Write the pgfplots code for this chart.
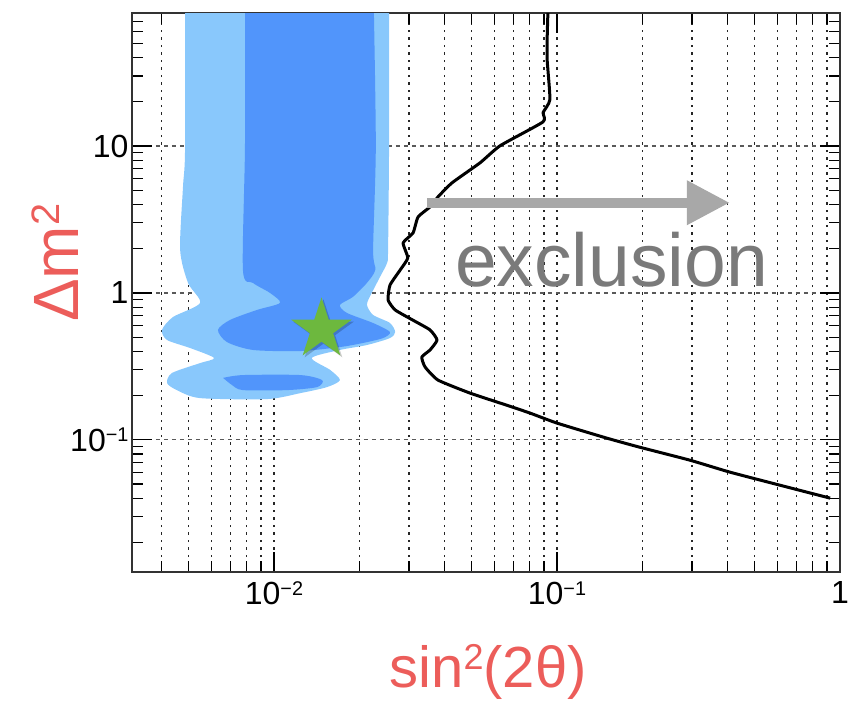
\documentclass[border=0pt]{standalone}
\usepackage{fontspec}
\setmainfont{Liberation Sans}
\usepackage{pgfplots}
\pgfplotsset{compat=1.18}
\usetikzlibrary{arrows.meta}
\definecolor{lightblue}{RGB}{137,200,252}
\definecolor{darkblue}{RGB}{81,149,251}
\definecolor{stargreen}{RGB}{109,184,62}
\definecolor{labelred}{RGB}{236,93,90}
\definecolor{arrowgray}{RGB}{168,168,168}
\definecolor{textgray}{RGB}{122,122,122}
\newcommand\sups[1]{\raisebox{0.3em}{\scalebox{0.62}{#1}}}
\pgfdeclareplotmark{fstar}{%
  \pgfpathmoveto{\pgfpointpolar{90}{\pgfplotmarksize}}%
  \pgfpathlineto{\pgfpointpolar{126}{0.382\pgfplotmarksize}}%
  \pgfpathlineto{\pgfpointpolar{162}{\pgfplotmarksize}}%
  \pgfpathlineto{\pgfpointpolar{198}{0.382\pgfplotmarksize}}%
  \pgfpathlineto{\pgfpointpolar{234}{\pgfplotmarksize}}%
  \pgfpathlineto{\pgfpointpolar{270}{0.382\pgfplotmarksize}}%
  \pgfpathlineto{\pgfpointpolar{306}{\pgfplotmarksize}}%
  \pgfpathlineto{\pgfpointpolar{342}{0.382\pgfplotmarksize}}%
  \pgfpathlineto{\pgfpointpolar{18}{\pgfplotmarksize}}%
  \pgfpathlineto{\pgfpointpolar{54}{0.382\pgfplotmarksize}}%
  \pgfpathclose\pgfusepathqfill}
\begin{document}
\begin{tikzpicture}
\useasboundingbox (-132pt,-133pt) rectangle (730pt,572pt);
\begin{loglogaxis}[
  at={(0pt,0pt)}, anchor=south west,
  scale only axis, width=708pt, height=559pt,
  xmin=0.00315, xmax=1, ymin=0.0126, ymax=80.4,
  xtick={0.01,0.1,1}, xticklabels={10\sups{−2},10\sups{−1},1},
  ytick={0.1,1,10}, yticklabels={10\sups{−1},1,10},
  minor xtick={0.004,0.005,0.006,0.007,0.008,0.009,0.02,0.03,0.04,0.05,0.06,0.07,0.08,0.09,0.2,0.3,0.4,0.5,0.6,0.7,0.8,0.9},
  minor ytick={0.02,0.03,0.04,0.05,0.06,0.07,0.08,0.09,0.2,0.3,0.4,0.5,0.6,0.7,0.8,0.9,2,3,4,5,6,7,8,9,20,30,40,50,60,70,80},
  tick align=inside, major tick length=20pt, minor tick length=11pt,
  xmajorgrids, xminorgrids, ymajorgrids,
  major x grid style={black!85, line width=1.2pt, dash pattern=on 2.5pt off 5pt},
  minor x grid style={black!85, line width=1.2pt, dash pattern=on 2.5pt off 5pt},
  major y grid style={black!65, line width=1.2pt, dash pattern=on 4pt off 4pt},
  axis line style={black!80, line width=1.5pt},
  every tick/.style={black, line width=1.2pt},
  ticklabel style={font=\fontsize{32}{36}\selectfont},
  xticklabel style={yshift=-6pt},
  xlabel={sin\sups{2}(2θ)},
  ylabel={Δm\sups{2}},
  xlabel style={at={(axis description cs:0.503,-0.179)}, anchor=center, text=labelred, font=\fontsize{58}{64}\selectfont},
  ylabel style={at={(axis description cs:-0.109,0.553)}, anchor=center, text=labelred, font=\fontsize{64}{70}\selectfont},
]
\addplot[fill=lightblue, draw=none, smooth, tension=0.45] coordinates {
(0.00485,100) (0.00485,9.42) (0.00477,5.28) (0.00466,1.964) (0.00497,1.170) (0.00548,0.855) (0.00440,0.686) (0.00402,0.560) (0.00419,0.478) (0.00505,0.422) (0.00614,0.361) (0.00548,0.333) (0.00436,0.285) (0.00419,0.2434) (0.00454,0.218) (0.00548,0.1924) (0.00945,0.1894) (0.0124,0.208) (0.0154,0.2286) (0.0171,0.255) (0.0158,0.299) (0.0136,0.361) (0.0171,0.409) (0.0213,0.442) (0.0257,0.493) (0.0268,0.542) (0.0257,0.624) (0.0224,0.708) (0.0213,0.828) (0.0218,0.939) (0.0237,1.286) (0.0251,1.602) (0.0253,1.964) (0.0255,9.42) (0.0255,100)
} -- cycle;
\addplot[fill=darkblue, draw=none, smooth, tension=0.45] coordinates {
(0.00790,100) (0.00790,10.05) (0.00777,1.435) (0.00843,1.170) (0.00968,1) (0.0105,0.855) (0.00871,0.766) (0.00700,0.655) (0.00634,0.560) (0.00682,0.463) (0.00843,0.409) (0.0124,0.402) (0.0171,0.428) (0.0206,0.456) (0.0243,0.493) (0.0257,0.542) (0.0224,0.624) (0.0181,0.731) (0.0171,0.828) (0.0190,0.939) (0.0213,1.170) (0.0228,1.435) (0.0224,1.964) (0.0229,10.05) (0.0225,100)
} -- cycle;
\addplot[fill=darkblue, draw=none, smooth, tension=0.45] coordinates {
(0.00661,0.264) (0.00777,0.276) (0.0124,0.276) (0.0148,0.255) (0.0142,0.2286) (0.0111,0.218) (0.00777,0.218) (0.00711,0.236) (0.00661,0.264)
} -- cycle;
\addplot[black, line width=3pt, line join=round, smooth, tension=0.3] coordinates {
(0.0929,82) (0.0923,53.1) (0.0923,38.7) (0.0944,20.7) (0.0893,16.9) (0.0893,14.6) (0.0630,10.05) (0.0535,7.69) (0.0426,5.62) (0.0380,4.51) (0.0356,3.85) (0.0323,3.29) (0.0310,2.56) (0.0286,2.19) (0.0297,1.73) (0.0279,1.43) (0.0257,1.13) (0.0253,0.896) (0.0268,0.766) (0.0310,0.652) (0.0356,0.560) (0.0377,0.478) (0.0356,0.409) (0.0333,0.366) (0.0342,0.313) (0.0380,0.255) (0.0493,0.208) (0.0665,0.172) (0.0804,0.152) (0.100,0.130) (0.150,0.1027) (0.196,0.0891) (0.295,0.0727) (0.408,0.0603) (0.614,0.0491) (0.923,0.0401)
};
\addplot[only marks, mark=fstar, mark size=32pt, color=black, opacity=0.2, mark options={xshift=2pt, yshift=-2pt}] coordinates {(0.01472,0.564)};
\addplot[only marks, mark=fstar, mark size=32pt, color=stargreen] coordinates {(0.01472,0.564)};
\draw[arrowgray, line width=10pt, -{Triangle[length=43pt,width=42pt]}] (axis cs:0.0347,4.11) -- (axis cs:0.408,4.11);
\node[anchor=base west, text=textgray, font=\fontsize{75}{80}\selectfont, inner sep=0pt] at (axis cs:0.0436,1.1) {exclusion};
\end{loglogaxis}
\end{tikzpicture}
\end{document}
